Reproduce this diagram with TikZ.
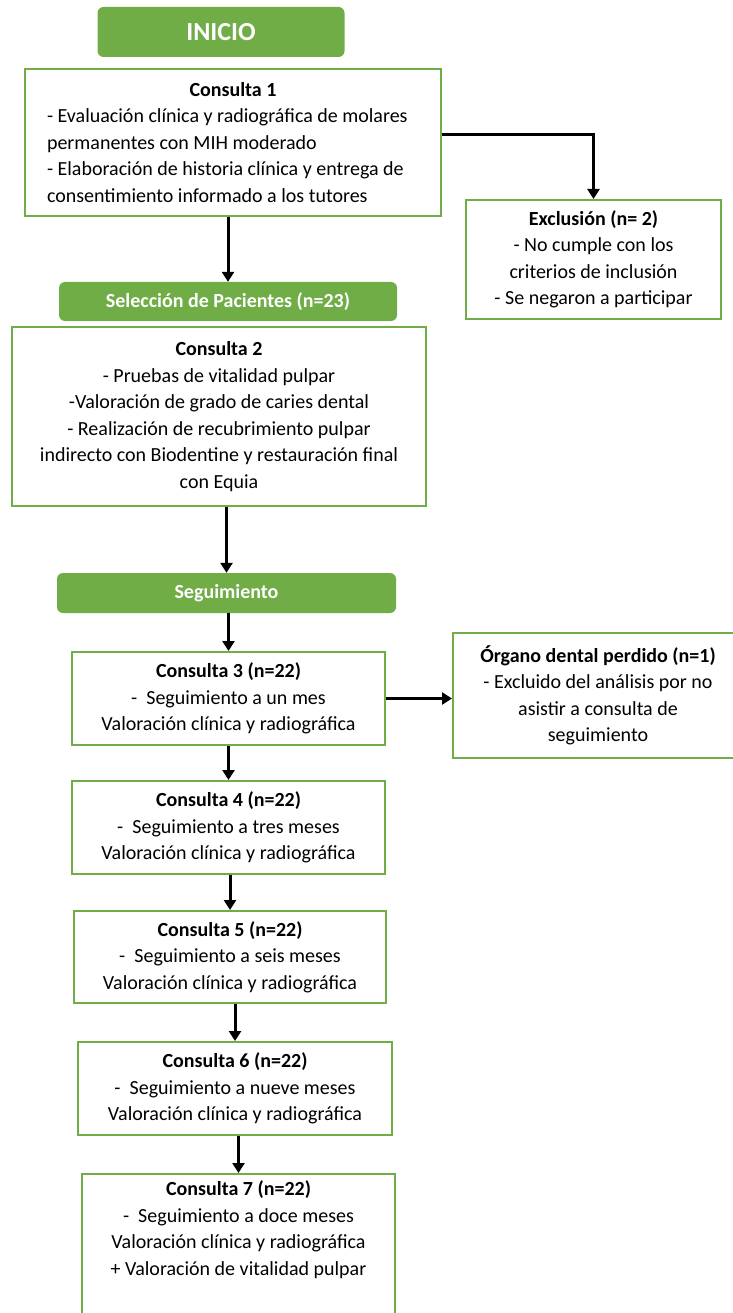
\documentclass[tikz,border=0pt]{standalone}
\usepackage{fontspec}
\setmainfont{Carlito}
\usetikzlibrary{arrows.meta,positioning,calc}
\definecolor{mihgreen}{RGB}{112,173,71}

\begin{document}
\begin{tikzpicture}[x=1pt,y=-1pt,every node/.style={font=\fontsize{20}{26.5}\selectfont},
      box/.style={draw=mihgreen,line width=2pt,fill=white,align=center,inner sep=4pt},
      tag/.style={fill=mihgreen,rounded corners=6pt,text=white,font=\fontsize{20}{24}\selectfont\bfseries},
      arr/.style={-{Triangle[width=12pt,length=10pt]},line width=3pt,black}]
    \useasboundingbox (0,0) rectangle (732,1313);
    % Inicio y primera consulta
    \node[tag,minimum width=247pt,minimum height=50pt,font=\fontsize{26}{30}\selectfont\bfseries] (inicio) at (221,32) {INICIO};
    \node[box,minimum width=416pt,minimum height=147pt,text width=372pt,align=flush left] (c1) at (233,142.5)
         {\makebox[\linewidth]{\textbf{Consulta 1}}\\- Evaluación clínica y radiográfica de molares\\permanentes con MIH moderado\\- Elaboración de historia clínica y entrega de\\consentimiento informado a los tutores};
    \node[box,minimum width=255pt,minimum height=119pt] (excl) at (593.5,259.5)
         {\textbf{Exclusión (n= 2)}\\- No cumple con los\\criterios de inclusión\\- Se negaron a participar};
    \draw[arr] ([yshift=7.5pt]c1.east) -| (excl.north);
    % Seleccion y segunda consulta
    \node[tag,minimum width=338pt,minimum height=39pt] (sel) at (228,301.5) {Selección de Pacientes (n=23)};
    \draw[arr] (c1.south -| sel.north) -- (sel.north);
    \node[box,minimum width=414pt,minimum height=179pt] (c2) at (219,416.5)
         {\textbf{Consulta 2}\\- Pruebas de vitalidad pulpar\\-Valoración de grado de caries dental\\- Realización de recubrimiento pulpar\\indirecto con Biodentine y restauración final\\con Equia};
    \node[tag,minimum width=339pt,minimum height=40pt] (seg) at (226.5,593) {Seguimiento};
    \draw[arr] (c2.south -| seg.north) -- (seg.north);
    % Consultas de seguimiento
    \node[box,minimum width=313pt,minimum height=93pt] (c3) at (228.5,698.5)
         {\textbf{Consulta 3 (n=22)}\\-~~Seguimiento a un mes\\Valoración clínica y radiográfica};
    \node[box,minimum width=290pt,minimum height=125pt] (organo) at (598,695.5)
         {\textbf{Órgano dental perdido (n=1)}\\- Excluido del análisis por no\\asistir a consulta de\\seguimiento};
    \draw[arr] (seg.south -| c3.north) -- (c3.north);
    \draw[arr] (c3.east) -- (c3.east -| organo.west);
    \node[box,minimum width=313pt,minimum height=93pt] (c4) at (228.5,827.5)
         {\textbf{Consulta 4 (n=22)}\\-~~Seguimiento a tres meses\\Valoración clínica y radiográfica};
    \node[box,minimum width=312pt,minimum height=92pt] (c5) at (230,957)
         {\textbf{Consulta 5 (n=22)}\\-~~Seguimiento a seis meses\\Valoración clínica y radiográfica};
    \node[box,minimum width=314pt,minimum height=93pt] (c6) at (235,1088.5)
         {\textbf{Consulta 6 (n=22)}\\-~~Seguimiento a nueve meses\\Valoración clínica y radiográfica};
    \node[box,minimum width=313pt,anchor=north,inner ysep=7pt,text depth=90pt] (c7) at (238.5,1173)
         {\textbf{Consulta 7 (n=22)}\\-~~Seguimiento a doce meses\\Valoración clínica y radiográfica\\+ Valoración de vitalidad pulpar};
    \draw[arr] (c3.south -| c4.north) -- (c4.north);
    \draw[arr] (c4.south -| c5.north) -- (c5.north);
    \draw[arr] (c5.south -| c6.north) -- (c6.north);
    \draw[arr] (c6.south -| c7.north) -- (c7.north);
\end{tikzpicture}
\end{document}
